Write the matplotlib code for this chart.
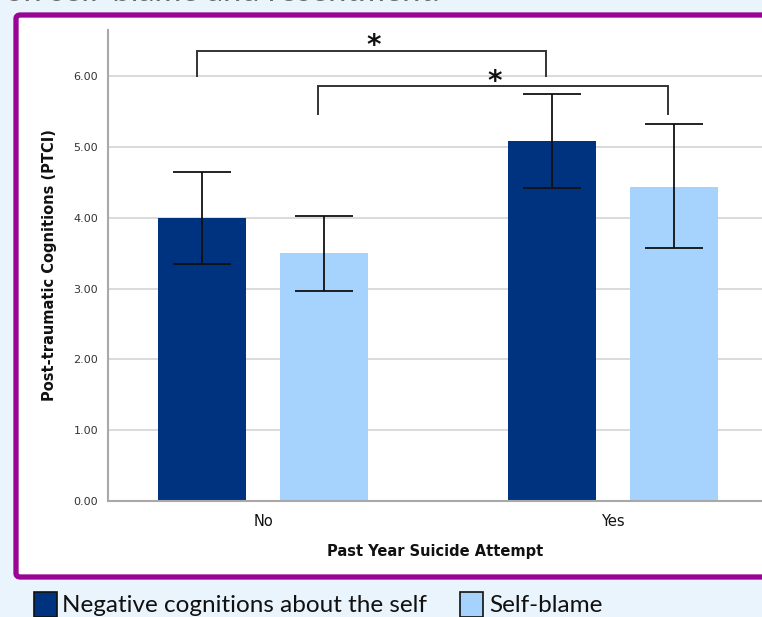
import matplotlib.pyplot as plt
from matplotlib.patches import FancyBboxPatch, Rectangle

# group means and 95% CI bounds read per condition
groups = ["No", "Yes"]
series = ["Negative cognitions about the self", "Self-blame"]
neg_self = [4.00, 5.08]
neg_self_lo = [3.35, 4.42]
neg_self_hi = [4.65, 5.75]
self_blame = [3.50, 4.44]
self_blame_lo = [2.97, 3.57]
self_blame_hi = [4.03, 5.32]
yticks = [0, 1, 2, 3, 4, 5, 6]

colors = ["#00337f", "#a6d3fd"]
bg = "#eaf4fd"
purple = "#9a0494"

fig = plt.figure(figsize=(7.62, 6.17), dpi=100)
fig.patch.set_facecolor(bg)

W, H = 762, 617

# slide title running off the top edge (only its lower edge shows)
fig.text(5 / W, 1 - 1 / H, "on self-blame and resentment.", fontsize=23.5,
         family="Lato", color="#6a6a6a", va="baseline", ha="left")

# purple frame around the chart panel
frame = FancyBboxPatch((16 / W, 1 - 577 / H), 1.0, (577 - 15) / H,
                       boxstyle="round,pad=0,rounding_size=0.006",
                       transform=fig.transFigure, facecolor="white",
                       edgecolor=purple, linewidth=3.8, zorder=-1)
fig.patches.append(frame)

ax = fig.add_axes([108 / W, 1 - 501 / H, 1 - 108 / W, (501 - 30) / H])
ax.set_facecolor("white")
ax.set_xlim(-0.443, 1.426)
ax.set_ylim(0, 6.65)

offset = 0.174
width = 0.251
xs = range(len(groups))
for i, (vals, lo, hi) in enumerate([(neg_self, neg_self_lo, neg_self_hi),
                                    (self_blame, self_blame_lo, self_blame_hi)]):
    pos = [x + (2 * i - 1) * offset for x in xs]
    ax.bar(pos, vals, width=width, color=colors[i], zorder=2)
    err = [[v - l for v, l in zip(vals, lo)], [h - v for v, h in zip(vals, hi)]]
    ax.errorbar(pos, vals, yerr=err, fmt="none", ecolor="#111111",
                elinewidth=1.3, capsize=21, capthick=1.3, zorder=3)

# significance brackets: (left x, right x, top y, leg bottom y)
brackets = [(0 - offset - 0.016, 1 - offset - 0.016, 6.36, 6.0),
            (0 + offset - 0.016, 1 + offset - 0.016, 5.86, 5.47)]
for x0, x1, top, bot in brackets:
    ax.plot([x0, x0, x1, x1], [bot, top, top, bot], color="#333333",
            linewidth=1.4, zorder=4, solid_joinstyle="miter")
    # the asterisk glyph sits high in its box, so anchor it a bit below the bar
    ax.text((x0 + x1) / 2 + 0.005, top - 0.14, "*", ha="center", va="bottom",
            fontsize=20, fontweight="bold", color="#111111")

ax.set_yticks(yticks)
ax.set_yticklabels([f"{t:.2f}" for t in yticks], fontsize=8, color="#333333")
ax.set_xticks(list(xs))
ax.set_xticklabels(groups, fontsize=10.5, color="#111111")
ax.tick_params(axis="both", length=0, pad=7)
ax.tick_params(axis="x", pad=9)
ax.yaxis.grid(True, color="#d4d4d4", linewidth=1.2, zorder=0)
ax.set_axisbelow(True)

for side in ["top", "right"]:
    ax.spines[side].set_visible(False)
for side in ["left", "bottom"]:
    ax.spines[side].set_color("#a8a8a8")
    ax.spines[side].set_linewidth(1.5)

ax.set_xlabel("Past Year Suicide Attempt", fontsize=10.5, fontweight="bold",
              color="#111111", labelpad=11)
ax.set_ylabel("Post-traumatic Cognitions (PTCI)", fontsize=10.5,
              fontweight="bold", color="#111111", labelpad=12)

# legend below the frame, drawn as swatches + text
swatch_x = [34, 460]
text_x = [62, 489]
for i, name in enumerate(series):
    fig.patches.append(Rectangle((swatch_x[i] / W, 1 - 617 / H), 23 / W, 25 / H,
                                 transform=fig.transFigure, facecolor=colors[i],
                                 edgecolor="#111111", linewidth=1.2))
    fig.text(text_x[i] / W, 1 - 605 / H, name, fontsize=17.5, family="Lato",
             color="#111111", va="center", ha="left")

fig.savefig("out.png", dpi=100, facecolor=bg)
